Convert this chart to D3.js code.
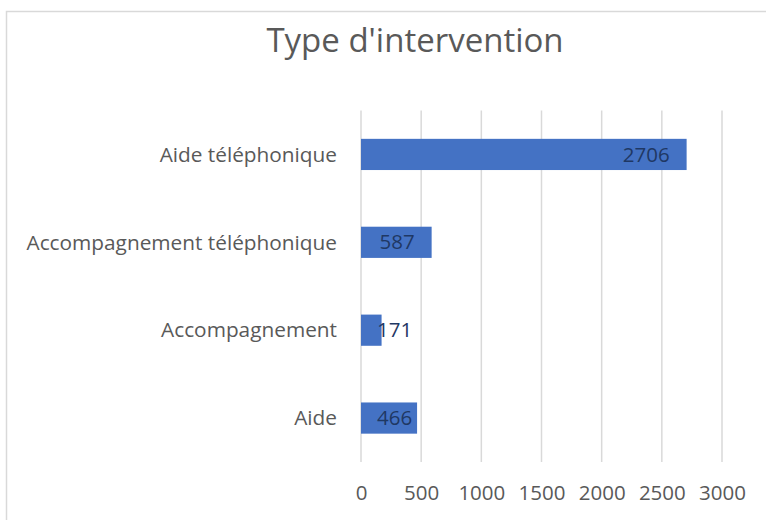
<!DOCTYPE html>
<html>
<head>
<meta charset="utf-8">
<script src="https://cdn.jsdelivr.net/npm/d3@7"></script>
<style>
  body { margin: 0; background: #fff; }
  svg { display: block; font-family: "Open Sans", sans-serif; }
</style>
</head>
<body>
<svg id="chart" width="766" height="520"></svg>
<script>
// données
const categories = ['Aide téléphonique', 'Accompagnement téléphonique', 'Accompagnement', 'Aide'];
const values = [2706, 587, 171, 466];
const xTicks = [0, 500, 1000, 1500, 2000, 2500, 3000];
const chartTitle = "Type d'intervention";

const svg = d3.select('#chart');

// cadre du graphique (déborde à droite et en bas)
svg.append('rect')
  .attr('x', 6.5).attr('y', 11.5)
  .attr('width', 800).attr('height', 600)
  .attr('fill', '#fff')
  .attr('stroke', '#d9d9d9')
  .attr('stroke-width', 1.5);

const margin = {top: 110.5, bottom: 462, left: 361, right: 722};

const x = d3.scaleLinear().domain([0, 3000]).range([margin.left, margin.right]);
const y = d3.scaleBand().domain(categories).range([margin.top, margin.bottom]).paddingInner(0.645).paddingOuter(0.3225);

// titre
svg.append('text')
  .attr('x', 415).attr('y', 52)
  .attr('text-anchor', 'middle')
  .attr('font-size', 33)
  .attr('fill', '#595959')
  .text(chartTitle);

// quadrillage vertical
svg.append('g')
  .selectAll('line')
  .data(xTicks)
  .join('line')
  .attr('x1', d => x(d)).attr('x2', d => x(d))
  .attr('y1', margin.top).attr('y2', margin.bottom)
  .attr('stroke', '#d9d9d9')
  .attr('stroke-width', 1.5);

// axe horizontal
const xAxis = svg.append('g')
  .attr('transform', `translate(0,${margin.bottom})`)
  .call(d3.axisBottom(x).tickValues(xTicks).tickSize(0).tickPadding(23).tickFormat(d3.format('d')));
xAxis.select('.domain').remove();
xAxis.selectAll('text')
  .attr('font-size', 20.5)
  .attr('font-family', '"Open Sans", sans-serif')
  .attr('fill', '#595959');

// étiquettes des catégories
svg.append('g')
  .selectAll('text')
  .data(categories)
  .join('text')
  .attr('x', 337)
  .attr('y', d => y(d) + y.bandwidth() / 2)
  .attr('dy', '0.35em')
  .attr('text-anchor', 'end')
  .attr('font-size', 20.8)
  .attr('fill', '#595959')
  .text(d => d);

// barres
svg.append('g')
  .selectAll('rect')
  .data(values)
  .join('rect')
  .attr('x', x(0))
  .attr('y', (d, i) => y(categories[i]))
  .attr('width', d => x(d) - x(0))
  .attr('height', y.bandwidth())
  .attr('fill', '#4472c4');

// étiquettes de données (extrémité intérieure)
const labels = svg.append('g')
  .selectAll('text')
  .data(values)
  .join('text')
  .attr('y', (d, i) => y(categories[i]) + y.bandwidth() / 2)
  .attr('dy', '0.35em')
  .attr('font-size', 20.5)
  .attr('fill', '#1f3864')
  .text(d => d);

labels.each(function (d) {
  const w = this.getComputedTextLength();
  const left = Math.max(x(d) - 17 - w, x(0) + 16);
  d3.select(this).attr('x', left);
});
</script>
</body>
</html>
